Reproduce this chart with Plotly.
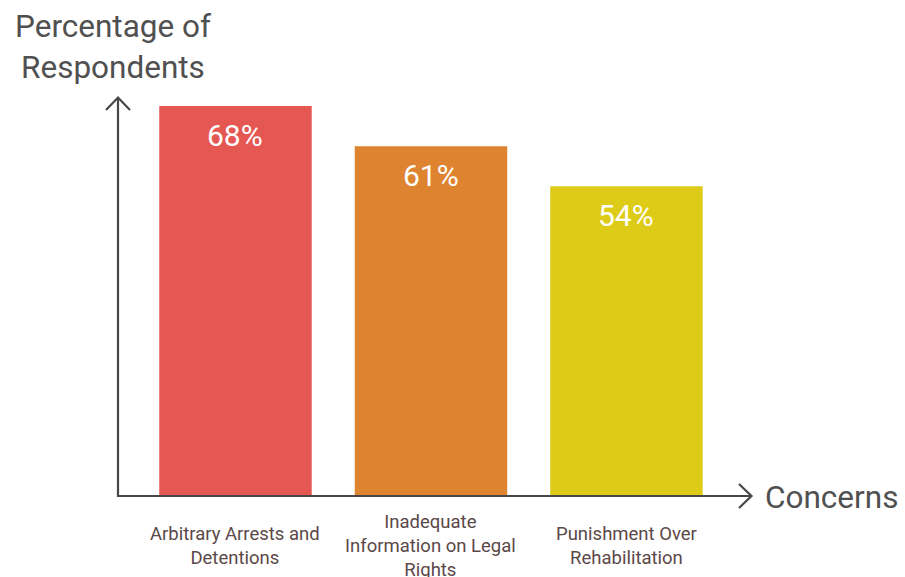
import plotly.graph_objects as go

categories = ["Arbitrary Arrests and Detentions",
              "Inadequate Information on Legal Rights",
              "Punishment Over Rehabilitation"]
tick_labels = ["Arbitrary Arrests and<br>Detentions",
               "Inadequate<br>Information on Legal<br>Rights",
               "Punishment Over<br>Rehabilitation"]
values = [68, 61, 54]
colors = ["#E55753", "#DE832F", "#DECB17"]

W, H = 905, 577
L, R, T, B = 118, 155, 97, 81
PW, PH = W - L - R, H - T - B

def px(x):
    return (x - L) / PW

def py(y):
    return (H - B - y) / PH

fig = go.Figure()
fig.add_trace(go.Bar(
    x=categories, y=values, marker=dict(color=colors, line=dict(width=0)),
    width=0.78, hoverinfo="skip", showlegend=False))

annotations = []
for c, v in zip(categories, values):
    annotations.append(dict(x=c, y=v, xref="x", yref="y", text=f"{v}%",
                            showarrow=False, yanchor="top", yshift=-10,
                            font=dict(family="Roboto", size=30, color="white")))
for c, t in zip(categories, tick_labels):
    annotations.append(dict(x=c, y=py(546), xref="x", yref="paper", text=t,
                            showarrow=False, yanchor="middle", xanchor="center",
                            font=dict(family="Roboto", size=18.5, color="#5b4848")))
annotations.append(dict(x=px(113), y=py(47), xref="paper", yref="paper",
                        text="Percentage of<br>Respondents", showarrow=False,
                        xanchor="center", yanchor="middle", align="center",
                        font=dict(family="Roboto", size=31.5, color="#505050")))
annotations.append(dict(x=px(763), y=py(497), xref="paper", yref="paper",
                        text="Concerns", showarrow=False,
                        xanchor="left", yanchor="middle",
                        font=dict(family="Roboto", size=31.5, color="#505050")))

line = dict(color="#474747", width=2.2)
shapes = [
    dict(type="line", xref="paper", yref="paper", x0=px(118), x1=px(118),
         y0=py(497), y1=py(98), line=line),
    dict(type="line", xref="paper", yref="paper", x0=px(117), x1=px(751),
         y0=py(496), y1=py(496), line=line),
    dict(type="path", xref="paper", yref="paper",
         path=f"M {px(106)} {py(110)} L {px(118)} {py(97.5)} L {px(130)} {py(110)}",
         line=line),
    dict(type="path", xref="paper", yref="paper",
         path=f"M {px(739)} {py(484)} L {px(751.5)} {py(496)} L {px(739)} {py(508)}",
         line=line),
]

fig.update_layout(
    width=W, height=H, margin=dict(l=L, r=R, t=T, b=B, pad=0),
    paper_bgcolor="white", plot_bgcolor="white",
    xaxis=dict(range=[-0.601, 2.632], showticklabels=False, showgrid=False,
               zeroline=False, showline=False, fixedrange=True),
    yaxis=dict(range=[0, 69.57], showticklabels=False, showgrid=False,
               zeroline=False, showline=False, fixedrange=True),
    annotations=annotations, shapes=shapes, bargap=0.22,
)
fig.write_html("out.html")
